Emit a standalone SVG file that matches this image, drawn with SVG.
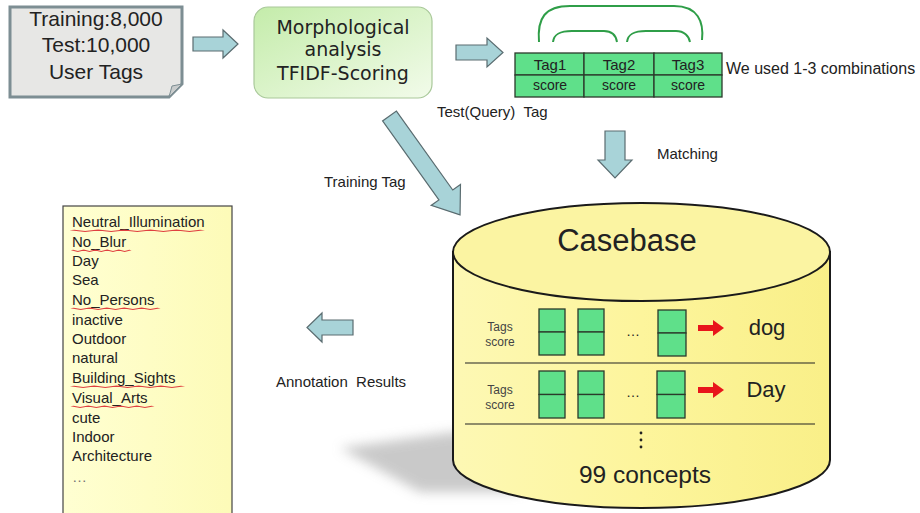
<svg xmlns="http://www.w3.org/2000/svg" width="920" height="513" viewBox="0 0 920 513">
<defs>
<linearGradient id="gGreen" x1="0" y1="0" x2="1" y2="1">
<stop offset="0" stop-color="#c4ecaa"/>
<stop offset="1" stop-color="#f2fbea"/>
</linearGradient>
<linearGradient id="gCyl" x1="0" y1="0" x2="1" y2="0">
<stop offset="0" stop-color="#fdf8b4"/>
<stop offset="0.5" stop-color="#fdf59c"/>
<stop offset="1" stop-color="#f9ef88"/>
</linearGradient>
<linearGradient id="gList" x1="0" y1="0" x2="1" y2="0">
<stop offset="0" stop-color="#ffffd2"/>
<stop offset="1" stop-color="#fdfbb8"/>
</linearGradient>
<filter id="blur" x="-30%" y="-30%" width="160%" height="160%"><feGaussianBlur stdDeviation="6"/></filter>
<path id="squig" d="M0,0 l1.5,1.5 l1.5,-1.5 l1.5,1.5 l1.5,-1.5 l1.5,1.5 l1.5,-1.5 l1.5,1.5 l1.5,-1.5 l1.5,1.5 l1.5,-1.5"/>
</defs>
<style>
text{font-family:"Liberation Sans",Arial,sans-serif;fill:#222}
.arrow{fill:#a8d3d8;stroke:#5a6c70;stroke-width:1.2}
.cell{fill:#5fe08a;stroke:#2b3a2b;stroke-width:1.3}
.mid{text-anchor:middle}
.bracket{fill:none;stroke:#2f9e48;stroke-width:2}
.sq{fill:none;stroke:#e04040;stroke-width:0.8}
.list{font-size:15px}
.lbl{font-size:15px;white-space:pre}
</style>
<rect width="920" height="513" fill="#ffffff"/>

<g id="input">
<path d="M10,7 H182 V84 L169,97 H10 Z" fill="#e7e7e5" stroke="#7d8e93" stroke-width="3"/>
<path d="M169,97 L172,86 L182,84 Z" fill="#c9cccc" stroke="#7d8e93" stroke-width="1"/>
<text x="96" y="26" class="mid" font-size="21">Training:8,000</text>
<text x="96" y="52" class="mid" font-size="21">Test:10,000</text>
<text x="96" y="79" class="mid" font-size="21">User Tags</text>
</g>

<g id="morph">
<rect x="254" y="7" width="178" height="91" rx="14" fill="url(#gGreen)" stroke="#a9c89a" stroke-width="1.2"/>
<text x="343" y="34" class="mid" font-size="19" style="font-family:'DejaVu Sans',Verdana,sans-serif">Morphological</text>
<text x="343" y="56" class="mid" font-size="19" style="font-family:'DejaVu Sans',Verdana,sans-serif">analysis</text>
<text x="343" y="80" class="mid" font-size="19" style="font-family:'DejaVu Sans',Verdana,sans-serif">TFIDF-Scoring</text>
</g>

<g id="tagtable">
<rect x="515" y="53" width="69" height="22" class="cell"/>
<rect x="584" y="53" width="70" height="22" class="cell"/>
<rect x="654" y="53" width="68" height="22" class="cell"/>
<rect x="515" y="75" width="69" height="22" class="cell"/>
<rect x="584" y="75" width="70" height="22" class="cell"/>
<rect x="654" y="75" width="68" height="22" class="cell"/>
<text x="550" y="70" class="mid" font-size="15">Tag1</text>
<text x="619" y="70" class="mid" font-size="15">Tag2</text>
<text x="688" y="70" class="mid" font-size="15">Tag3</text>
<text x="550" y="90" class="mid" font-size="14">score</text>
<text x="619" y="90" class="mid" font-size="14">score</text>
<text x="688" y="90" class="mid" font-size="14">score</text>
<path class="bracket" d="M539,42 C537,18 545,6 570,6 H674 C698,6 704,22 702,40"/>
<path class="bracket" d="M553,42 C554,34 560,31 572,31 H604 C612,31 616,36 617,42"/>
<path class="bracket" d="M627,42 C628,34 634,31 646,31 H676 C684,31 689,36 690,42"/>
<text x="726" y="74" font-size="16">We used 1-3 combinations</text>
<text x="437" y="117" class="lbl">Test(Query)  Tag</text>
</g>

<g id="casebase">
<path d="M340,448 L455,432 L540,470 L520,492 L420,492 Z" fill="#b8b8b8" opacity="0.75" filter="url(#blur)"/>
<path d="M453,252 V460 A188.5,48 0 0 0 830,460 V252 Z" fill="url(#gCyl)" stroke="#1a1a1a" stroke-width="2"/>
<ellipse cx="641.5" cy="252" rx="188.5" ry="49" fill="#fbf4a2" stroke="#1a1a1a" stroke-width="2"/>
<text x="627" y="251" class="mid" font-size="31">Casebase</text>
<line x1="465" y1="363" x2="815" y2="363" stroke="#222" stroke-width="1.2"/>
<line x1="465" y1="424" x2="815" y2="424" stroke="#222" stroke-width="1.2"/>

<text x="500" y="331" class="mid" font-size="12" style="fill:#444">Tags</text>
<text x="500" y="346" class="mid" font-size="12" style="fill:#444">score</text>
<rect x="539" y="309" width="26" height="23" class="cell"/>
<rect x="539" y="332" width="26" height="23" class="cell"/>
<rect x="578" y="309" width="26" height="23" class="cell"/>
<rect x="578" y="332" width="26" height="23" class="cell"/>
<rect x="658" y="310" width="28" height="23" class="cell"/>
<rect x="658" y="333" width="28" height="23" class="cell"/>
<text x="633" y="336" class="mid" font-size="14">…</text>
<path d="M698,325 H713 V320 L724,328 L713,336 V331 H698 Z" fill="#e8151b"/>
<text x="767" y="335" class="mid" font-size="22">dog</text>

<text x="500" y="394" class="mid" font-size="12" style="fill:#444">Tags</text>
<text x="500" y="409" class="mid" font-size="12" style="fill:#444">score</text>
<rect x="539" y="371" width="26" height="23.5" class="cell"/>
<rect x="539" y="394.5" width="26" height="23.5" class="cell"/>
<rect x="578" y="371" width="26" height="23.5" class="cell"/>
<rect x="578" y="394.5" width="26" height="23.5" class="cell"/>
<rect x="657" y="371" width="28" height="23.5" class="cell"/>
<rect x="657" y="394.5" width="28" height="23.5" class="cell"/>
<text x="633" y="397" class="mid" font-size="14">…</text>
<path d="M698,387 H713 V382 L724,390 L713,398 V393 H698 Z" fill="#e8151b"/>
<text x="766" y="397" class="mid" font-size="22">Day</text>

<circle cx="641" cy="433" r="1.4" fill="#222"/>
<circle cx="641" cy="440" r="1.4" fill="#222"/>
<circle cx="641" cy="447" r="1.4" fill="#222"/>
<text x="645" y="483" class="mid" font-size="24.5">99 concepts</text>
</g>

<g id="results">
<rect x="63" y="206" width="169" height="310" fill="url(#gList)" stroke="#444" stroke-width="1.2"/>
<text x="72" y="227" class="list">Neutral_Illumination</text>
<text x="72" y="247" class="list">No_Blur</text>
<text x="72" y="266" class="list">Day</text>
<text x="72" y="285" class="list">Sea</text>
<text x="72" y="305" class="list">No_Persons</text>
<text x="72" y="325" class="list">inactive</text>
<text x="72" y="344" class="list">Outdoor</text>
<text x="72" y="363" class="list">natural</text>
<text x="72" y="383" class="list">Building_Sights</text>
<text x="72" y="403" class="list">Visual_Arts</text>
<text x="72" y="423" class="list">cute</text>
<text x="72" y="442" class="list">Indoor</text>
<text x="72" y="461" class="list">Architecture</text>
<text x="72" y="482" class="list" style="fill:#777">…</text>
<g class="sq">
<use href="#squig" transform="translate(72,230) scale(8.7,1)"/>
<use href="#squig" transform="translate(72,250) scale(3.9,1)"/>
<use href="#squig" transform="translate(72,308) scale(5.8,1)"/>
<use href="#squig" transform="translate(72,386) scale(7.4,1)"/>
<use href="#squig" transform="translate(72,406) scale(5.4,1)"/>
</g>
</g>

<g id="connectors">
<path class="arrow" d="M193,37 H223 V30 L238,44 L223,58 V51 H193 Z"/>
<path class="arrow" d="M456,45 H487 V38 L503,52.5 L487,67 V60 H456 Z"/>
<path class="arrow" transform="translate(389.5,116) rotate(54.5)" d="M0,-8.5 H97 V-18 L121.5,0 L97,18 V8.5 H0 Z"/>
<path class="arrow" d="M605,131 H625 V160 H632 L615,178 L598,160 H605 Z"/>
<path class="arrow" d="M353,320 H322 V313 L307,327.5 L322,342 V335 H353 Z"/>
<text x="324" y="187" class="lbl">Training Tag</text>
<text x="657" y="159" class="lbl">Matching</text>
<text x="276" y="387" class="lbl">Annotation  Results</text>
</g>
</svg>
